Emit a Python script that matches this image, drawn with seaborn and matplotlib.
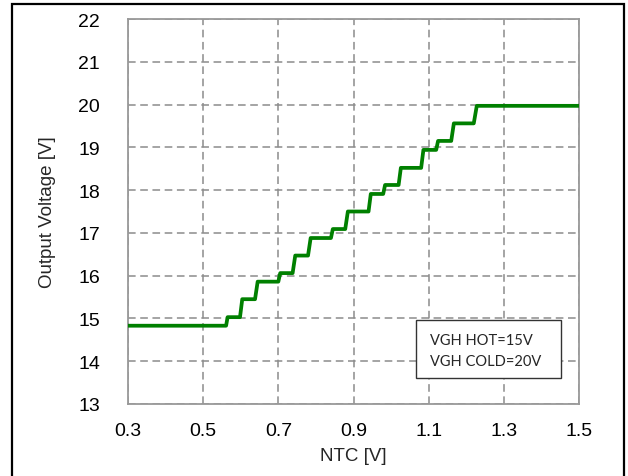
import matplotlib
matplotlib.use("Agg")
import matplotlib.pyplot as plt
import matplotlib.patches as mpatches
import pandas as pd
import seaborn as sns

# staircase: (NTC, Vout) vertices of the polyline
ntc = [0.300, 0.561, 0.565, 0.598, 0.604, 0.638, 0.645, 0.700, 0.705, 0.738,
       0.745, 0.779, 0.786, 0.840, 0.845, 0.878, 0.885, 0.940, 0.946, 0.979,
       0.984, 1.020, 1.026, 1.080, 1.086, 1.120, 1.125, 1.160, 1.167, 1.220,
       1.228, 1.500]
vout = [14.83, 14.83, 15.03, 15.03, 15.45, 15.45, 15.86, 15.86, 16.06, 16.06,
        16.47, 16.47, 16.88, 16.88, 17.09, 17.09, 17.50, 17.50, 17.91, 17.91,
        18.12, 18.12, 18.52, 18.52, 18.94, 18.94, 19.15, 19.15, 19.56, 19.56,
        19.97, 19.97]

x_ticks = [0.3, 0.5, 0.7, 0.9, 1.1, 1.3, 1.5]
y_ticks = [13, 14, 15, 16, 17, 18, 19, 20, 21, 22]
note_lines = ["VGH HOT=15V", "VGH COLD=20V"]

sns.set_style("white")
plt.rcParams["font.family"] = ["Liberation Sans", "DejaVu Sans"]

df = pd.DataFrame({"ntc": ntc, "vout": vout})

fig = plt.figure(figsize=(6.28, 4.77), dpi=100)
ax = fig.add_axes([128 / 628, 1 - 405 / 477, (579 - 128) / 628, (405 - 20) / 477])

sns.lineplot(data=df, x="ntc", y="vout", sort=False, ax=ax,
             color="#008000", linewidth=2.7, zorder=3)

ax.set_xlim(0.3, 1.5)
ax.set_ylim(13, 22)
ax.set_xticks(x_ticks)
ax.set_yticks(y_ticks)
ax.set_xticklabels([f"{v:.1f}" for v in x_ticks])
ax.grid(True, color="#8c8c8c", linestyle=(0, (5, 3)), linewidth=1.1)
for s in ax.spines.values():
    s.set_color("#999999")
    s.set_linewidth(1.3)
ax.tick_params(axis="both", direction="in", length=4, color="#999999",
               labelsize=14, colors="black")
ax.tick_params(axis="y", pad=20)
ax.tick_params(axis="x", pad=13)
ax.set_xlabel("NTC [V]", fontsize=13.5, labelpad=6)
ax.set_ylabel("Output Voltage [V]", fontsize=13.5, labelpad=16)

# annotation box
ax.add_patch(mpatches.Rectangle((0.6386, 0.0675), 0.3214, 0.1505, transform=ax.transAxes,
                                fc="white", ec="#333333", lw=1.0, zorder=5))
for line, ypos in zip(note_lines, [0.166, 0.112]):
    ax.text(0.6696, ypos, line, transform=ax.transAxes, fontsize=10.5,
            family=["Lato", "DejaVu Sans"], va="center", ha="left", zorder=6)

# outer frame around the whole picture
fig.patches.append(mpatches.Rectangle((12 / 628, -0.02), (624 - 12) / 628, 1.02 - 5 / 477,
                                      transform=fig.transFigure, fill=False,
                                      ec="black", lw=1.6))

fig.savefig("out.png", dpi=100)
